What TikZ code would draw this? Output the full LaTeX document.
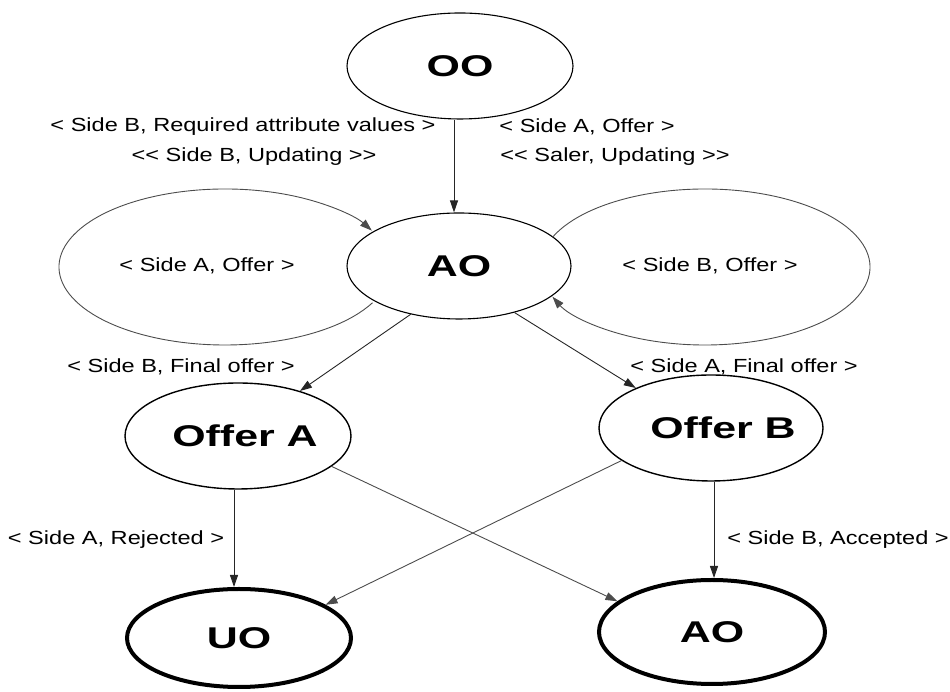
\documentclass[tikz,border=0pt]{standalone}
\usepackage{fontspec}
\usetikzlibrary{shapes.geometric,arrows.meta,calc}
\newfontfamily\lblfont[FakeStretch=1.24]{Liberation Sans}
\newfontfamily\bigfont[FakeStretch=1.43]{Liberation Sans}
\begin{document}
\begin{tikzpicture}[x=1pt,y=1pt,
  state/.style={ellipse, draw=black, line width=1.1pt, inner sep=0pt,
    font=\bigfont\bfseries\fontsize{30}{31}\selectfont},
  final/.style={state, line width=4pt},
  lbl/.style={font=\lblfont\fontsize{19}{21}\selectfont, inner sep=0pt},
  arr/.style={-{Triangle[length=12pt,width=8pt]}, line width=0.9pt, draw=black!85},
  thin/.style={line width=0.9pt, draw=black!70},
  ]
\useasboundingbox (0,0) rectangle (950,692);

% states
\node[state, minimum width=226pt, minimum height=106pt] (OO) at (460,626) {OO};
\node[state, minimum width=224pt, minimum height=106pt] (AO) at (459,426) {AO};
\node[state, minimum width=226pt, minimum height=106pt, line width=1.4pt] (OA) at (238,256) {\hspace*{7pt}Offer A\hspace*{-7pt}};
\node[state, minimum width=224pt, minimum height=106pt, line width=1.4pt] (OB) at (711,264) {\hspace*{12pt}Offer B\hspace*{-12pt}};
\node[final, minimum width=224pt, minimum height=98pt] (UO) at (239,54) {UO};
\node[final, minimum width=226pt, minimum height=104pt] (AOf) at (712,60) {AO};

% loop centres
\coordinate (LA) at (225,425);
\coordinate (LB) at (705,425);

% loops
\draw[arr, thin] ($(LA)+(-27.3:166 and 78)$) arc[start angle=-27.3, end angle=-332.2, x radius=166, y radius=78];
\draw[arr, thin] ($(LB)+(157.6:165 and 78)$) arc[start angle=157.6, end angle=-157.6, x radius=165, y radius=78];

% connectors
\draw[arr] ([xshift=-6pt]OO.south) -- ([xshift=-5pt]AO.north);
\draw[arr] (AO.225) -- (OA.36);
\draw[arr] (AO.-40) -- (OB.152);
\draw[arr] ([xshift=-4pt]OA.south) -- ([xshift=-5pt]UO.north);
\draw[arr, thin] (OA.-18) -- (AOf.162);
\draw[arr, thin] (OB.200) -- (UO.21);
\draw[arr] ([xshift=3pt]OB.south) -- ([xshift=2pt]AOf.north);

% labels
\node[lbl] (l1) at (243,565) {< Side B, Required attribute values >};
\node[lbl] (l2) at (254,535) {<< Side B, Updating >>};
\node[lbl] (l3) at (587,565) {< Side A, Offer >};
\node[lbl] (l4) at (615,535) {<< Saler, Updating >>};
\node[lbl] (l5) at (207,426) {< Side A, Offer >};
\node[lbl] (l6) at (710,426) {< Side B, Offer >};
\node[lbl] (l7) at (181,325) {< Side B, Final offer >};
\node[lbl] (l8) at (744,325) {< Side A, Final offer >};
\node[lbl] (l9) at (116,152) {< Side A, Rejected >};
\node[lbl] (l10) at (838,152) {< Side B, Accepted >};
\end{tikzpicture}
\end{document}
